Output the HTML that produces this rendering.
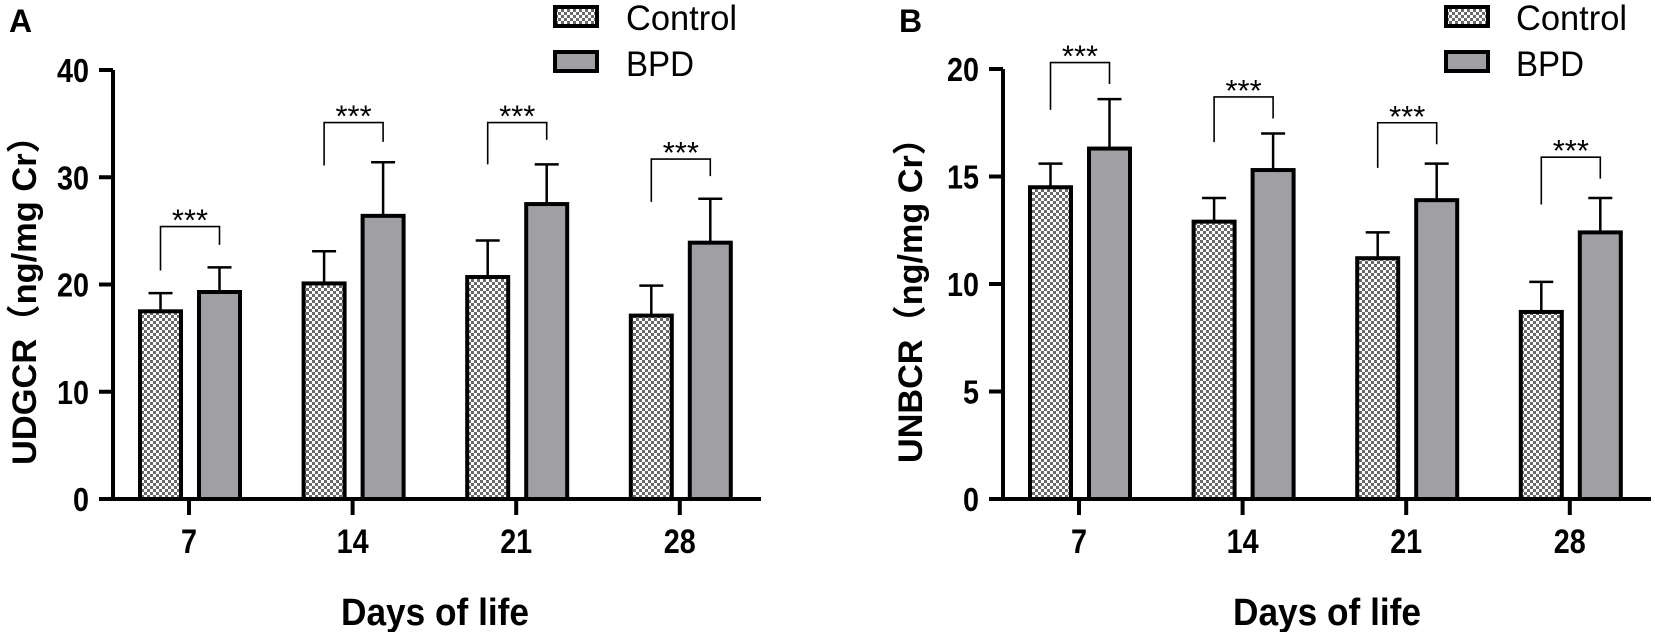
<!DOCTYPE html>
<html><head><meta charset="utf-8">
<style>
html,body{margin:0;padding:0;background:#fff;}
svg{display:block;}
text{font-family:"Liberation Sans","Noto Sans CJK SC",sans-serif;}
</style></head>
<body>
<svg id="s" width="1655" height="632" viewBox="0 0 1655 632" xmlns="http://www.w3.org/2000/svg">
<defs>
<pattern id="chk" width="6" height="6" patternUnits="userSpaceOnUse">
<rect width="6" height="6" fill="#fff"/>
<rect width="3" height="3" fill="#6a6a6a"/>
<rect x="3" y="3" width="3" height="3" fill="#6a6a6a"/>
</pattern>
</defs>
</svg>
<script>
var s=document.getElementById('s');var out='';
function panel(ax,y0,ppu,max,step,ticks,ctrl,ctrlE,bpd,bpdE,br,ylabel,letter,legX,legTX,ylabLen,ylabX,daysX){
  var ytop=y0-max*ppu;
  out+='<line x1="'+ax+'" y1="'+(ytop)+'" x2="'+ax+'" y2="'+(y0+2)+'" stroke="#000" stroke-width="4"/>';
  out+='<line x1="'+(ax-2)+'" y1="'+y0+'" x2="'+(ax+648)+'" y2="'+y0+'" stroke="#000" stroke-width="4"/>';
  for(var v=0;v<=max;v+=step){var y=y0-v*ppu;var str=''+v;
    out+='<line x1="'+(ax-14)+'" y1="'+y+'" x2="'+ax+'" y2="'+y+'" stroke="#000" stroke-width="4"/>';
    out+='<text x="'+(ax-24)+'" y="'+(y+12)+'" font-size="33" font-weight="bold" text-anchor="end" textLength="'+(str.length*16)+'" lengthAdjust="spacingAndGlyphs">'+str+'</text>';}
  var labs=['7','14','21','28'];
  for(var i=0;i<4;i++){var t=ax+76+i*163.6;
    out+='<line x1="'+t+'" y1="'+y0+'" x2="'+t+'" y2="'+(y0+16)+'" stroke="#000" stroke-width="4"/>';
    out+='<text x="'+t+'" y="'+(y0+54)+'" font-size="34" font-weight="bold" text-anchor="middle" textLength="'+(labs[i].length*16)+'" lengthAdjust="spacingAndGlyphs">'+labs[i]+'</text>';
    var cx=t-28.5, bx=t+30.5;
    var cy=y0-ctrl[i]*ppu, cey=y0-ctrlE[i]*ppu, by=y0-bpd[i]*ppu, bey=y0-bpdE[i]*ppu;
    out+='<line x1="'+cx+'" y1="'+cy+'" x2="'+cx+'" y2="'+cey+'" stroke="#000" stroke-width="2.5"/>';
    out+='<line x1="'+(cx-12)+'" y1="'+cey+'" x2="'+(cx+12)+'" y2="'+cey+'" stroke="#000" stroke-width="2.5"/>';
    out+='<line x1="'+bx+'" y1="'+by+'" x2="'+bx+'" y2="'+bey+'" stroke="#000" stroke-width="2.5"/>';
    out+='<line x1="'+(bx-12)+'" y1="'+bey+'" x2="'+(bx+12)+'" y2="'+bey+'" stroke="#000" stroke-width="2.5"/>';
    out+='<rect x="'+(t-49)+'" y="'+cy+'" width="41" height="'+(y0-cy)+'" fill="url(#chk)" stroke="#000" stroke-width="4"/>';
    out+='<rect x="'+(t+10)+'" y="'+by+'" width="41" height="'+(y0-by)+'" fill="#a0a0a4" stroke="#000" stroke-width="4"/>';
    var b=br[i], tt=y0-b[0]*ppu, ll=y0-b[1]*ppu, rr=y0-b[2]*ppu;
    out+='<polyline points="'+cx+','+ll+' '+cx+','+tt+' '+bx+','+tt+' '+bx+','+rr+'" fill="none" stroke="#000" stroke-width="1.6"/>';
    out+='<text x="'+((cx+bx)/2)+'" y="'+(tt+4)+'" font-size="31" text-anchor="middle">***</text>';
  }
  out+='<text transform="translate('+ylabX+',292) rotate(-90)" font-size="34" font-weight="bold" text-anchor="middle" textLength="'+ylabLen+'" lengthAdjust="spacingAndGlyphs">'+ylabel+'</text>';
  out+='<text x="'+daysX+'" y="625" font-size="38" font-weight="bold" text-anchor="middle" textLength="188" lengthAdjust="spacingAndGlyphs">Days of life</text>';
  out+='<text x="'+(ax-104)+'" y="32" font-size="32" font-weight="bold">'+letter+'</text>';
  out+='<rect x="'+legX+'" y="7" width="42" height="19" fill="url(#chk)" stroke="#000" stroke-width="4"/>';
  out+='<rect x="'+legX+'" y="52" width="42" height="19" fill="#a0a0a4" stroke="#000" stroke-width="4"/>';
  out+='<text x="'+legTX+'" y="30" font-size="35" textLength="111" lengthAdjust="spacingAndGlyphs">Control</text>';
  out+='<text x="'+legTX+'" y="76" font-size="35" textLength="68" lengthAdjust="spacingAndGlyphs">BPD</text>';
}
panel(113,499,10.725,40,10,4,[17.5,20.1,20.7,17.1],[19.2,23.1,24.1,19.9],[19.3,26.4,27.5,23.9],[21.6,31.4,31.2,28.0],
  [[25.4,21.3,23.7],[35.1,31.1,33.3],[35.1,31.2,33.5],[31.7,27.7,30.1]],'UDGCR（ng/mg Cr）','A',555,626,346,36,435);
panel(1003,499,21.5,20,5,4,[14.5,12.9,11.2,8.7],[15.6,14.0,12.4,10.1],[16.3,15.3,13.9,12.4],[18.6,17.0,15.6,14.0],
  [[20.3,18.1,19.3],[18.7,16.6,17.7],[17.5,15.4,16.5],[15.9,13.7,14.9]],'UNBCR（ng/mg Cr）','B',1446,1516,342,922,1327);
s.insertAdjacentHTML('beforeend',out);
</script>
</body></html>
